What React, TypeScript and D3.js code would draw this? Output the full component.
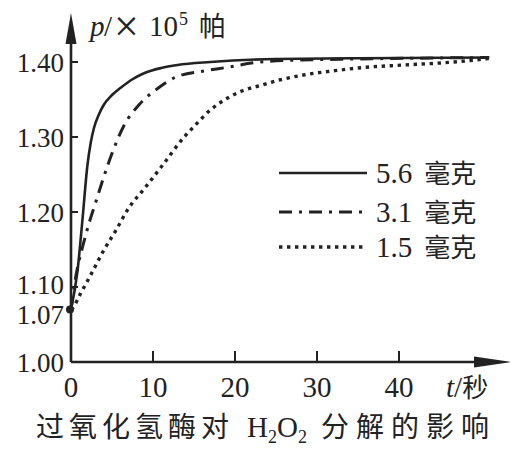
import React from "react";
import * as d3 from "d3";

// ---- data ----
const t56 = [0, 0.8, 1.4, 2.0, 2.4, 2.8, 3.4, 4.0, 5.0, 6.1, 7.5, 8.9, 11, 13, 17, 25, 35, 51];
const p56 = [1.07, 1.122, 1.19, 1.262, 1.292, 1.312, 1.33, 1.343, 1.356, 1.366, 1.377, 1.385, 1.392, 1.396, 1.4, 1.404, 1.405, 1.406];

const t31 = [0, 0.6, 1.4, 2.2, 3.1, 4.0, 5.1, 6.5, 8.3, 10.6, 12.6, 16.2, 19.1, 22.3, 26, 35, 51];
const p31 = [1.07, 1.115, 1.153, 1.185, 1.216, 1.247, 1.281, 1.316, 1.343, 1.365, 1.379, 1.388, 1.393, 1.399, 1.402, 1.404, 1.406];

const t15 = [0, 0.2, 1.2, 2.4, 4.0, 5.5, 6.9, 9, 11, 13.8, 15, 17, 19.1, 21, 23.2, 25.4, 28, 32.6, 36, 40.6, 46.7, 51.2];
const p15 = [1.07, 1.072, 1.092, 1.116, 1.149, 1.176, 1.203, 1.232, 1.26, 1.3, 1.314, 1.336, 1.352, 1.362, 1.369, 1.376, 1.382, 1.389, 1.393, 1.396, 1.4, 1.405];

const seriesNames = ["5.6 毫克", "3.1 毫克", "1.5 毫克"];
const xTicks = [0, 10, 20, 30, 40];
const yTickLabels = ["1.40", "1.30", "1.20", "1.10", "1.07", "1.00"];
const yTickMarks = [1.1, 1.2, 1.3, 1.4];
const startValue = 1.07;

const SERIF = "'Liberation Serif', 'Times New Roman', serif";
const CJKF = "'Noto Sans CJK SC', sans-serif";

export default function App() {
  const x = d3.scaleLinear().domain([0, 40]).range([71, 399]);
  const y = d3.scaleLinear().domain([1.0, 1.4]).range([362, 62]);

  const line = d3
    .line<[number, number]>()
    .x((d) => x(d[0]))
    .y((d) => y(d[1]))
    .curve(d3.curveMonotoneX);

  const data: [number, number][][] = [
    t56.map((t, i) => [t, p56[i]]),
    t31.map((t, i) => [t, p31[i]]),
    t15.map((t, i) => [t, p15[i]]),
  ];
  const styles = [
    { w: 2.6, dash: undefined as string | undefined },
    { w: 3, dash: "13 7 3 7" },
    { w: 3.4, dash: "3.4 4.6" },
  ];

  const x0 = x(0);
  const yBase = y(1.0);
  const stroke = "#222";
  // small vertical nudges so the close labels 1.10 / 1.07 sit as in the reference
  const labelNudge: Record<string, number> = { "1.10": -3, "1.07": 5 };

  return (
    <svg
      width={518}
      height={462}
      style={{ position: "absolute", left: 0, top: 0, background: "#fff" }}
    >
      <rect x={0} y={0} width={518} height={462} fill="#fff" />
      {/* curves */}
      {data.map((d, i) => (
        <path
          key={i}
          d={line(d) || ""}
          fill="none"
          stroke={stroke}
          strokeWidth={styles[i].w}
          strokeDasharray={styles[i].dash}
        />
      ))}

      {/* axes */}
      <line x1={x0} y1={yBase} x2={x0} y2={38} stroke={stroke} strokeWidth={2.6} />
      <path d={`M${x0},13 L${x0 - 5.5},44 L${x0 + 5.5},44 Z`} fill={stroke} />
      <line x1={x0} y1={yBase} x2={480} y2={yBase} stroke={stroke} strokeWidth={2.6} />
      <path d={`M511,${yBase} L474,${yBase - 5.5} L474,${yBase + 5.5} Z`} fill={stroke} />

      {/* y ticks */}
      {yTickMarks.map((v) => (
        <line key={v} x1={x0} x2={x0 + 7} y1={y(v)} y2={y(v)} stroke={stroke} strokeWidth={2} />
      ))}
      {/* x ticks */}
      {xTicks.slice(1).map((v) => (
        <line key={v} x1={x(v)} x2={x(v)} y1={yBase} y2={yBase - 11} stroke={stroke} strokeWidth={2} />
      ))}

      {/* start point */}
      <circle cx={x0 - 1} cy={y(startValue)} r={4} fill={stroke} />

      {/* y tick labels */}
      {yTickLabels.map((s) => (
        <text
          key={s}
          x={64}
          y={y(+s) + (labelNudge[s] || 0)}
          dy="0.36em"
          textAnchor="end"
          fontFamily={SERIF}
          fontSize={27}
          fill={stroke}
        >
          {s}
        </text>
      ))}

      {/* x tick labels */}
      {xTicks.map((v) => (
        <text
          key={v}
          x={x(v)}
          y={397}
          textAnchor="middle"
          fontFamily={SERIF}
          fontSize={29}
          fill={stroke}
        >
          {v}
        </text>
      ))}
      <text x={446} y={397} fontFamily={SERIF} fontSize={29} fill={stroke}>
        <tspan fontStyle="italic">t</tspan>
        <tspan>/</tspan>
        <tspan fontFamily={CJKF} fontSize={26}>秒</tspan>
      </text>

      {/* y axis label */}
      <text y={36} fontFamily={SERIF} fontSize={29} fill={stroke}>
        <tspan x={90} fontStyle="italic">p</tspan>
        <tspan x={104}>/</tspan>
        <tspan x={114} y={41} fontSize={44}>×</tspan>
        <tspan x={149} y={36}>10</tspan>
        <tspan x={179} y={25} fontSize={18}>5</tspan>
        <tspan x={199} y={36} fontFamily={CJKF} fontSize={27}>帕</tspan>
      </text>

      {/* legend */}
      {seriesNames.map((name, i) => {
        const ly = [173, 212, 247][i];
        const [num, unit] = name.split(" ");
        return (
          <g key={name}>
            <line
              x1={279}
              x2={367}
              y1={ly}
              y2={ly}
              stroke={stroke}
              strokeWidth={styles[i].w}
              strokeDasharray={styles[i].dash}
            />
            <text x={376} y={ly + 10} fontFamily={SERIF} fontSize={29} fill={stroke}>
              {num}
              <tspan dx={12} fontFamily={CJKF} fontSize={26}>
                {unit}
              </tspan>
            </text>
          </g>
        );
      })}

      {/* title */}
      <text y={437} fontSize={28} fill={stroke}>
        <tspan x={36} fontFamily={CJKF} letterSpacing={5}>过氧化氢酶对</tspan>
        <tspan x={247} fontFamily={SERIF} fontSize={29}>H</tspan>
        <tspan fontFamily={SERIF} fontSize={18} dy={6}>2</tspan>
        <tspan fontFamily={SERIF} fontSize={29} dy={-6}>O</tspan>
        <tspan fontFamily={SERIF} fontSize={18} dy={6}>2</tspan>
        <tspan x={321} dy={-6} fontFamily={CJKF} letterSpacing={7}>分解的影响</tspan>
      </text>
    </svg>
  );
}
